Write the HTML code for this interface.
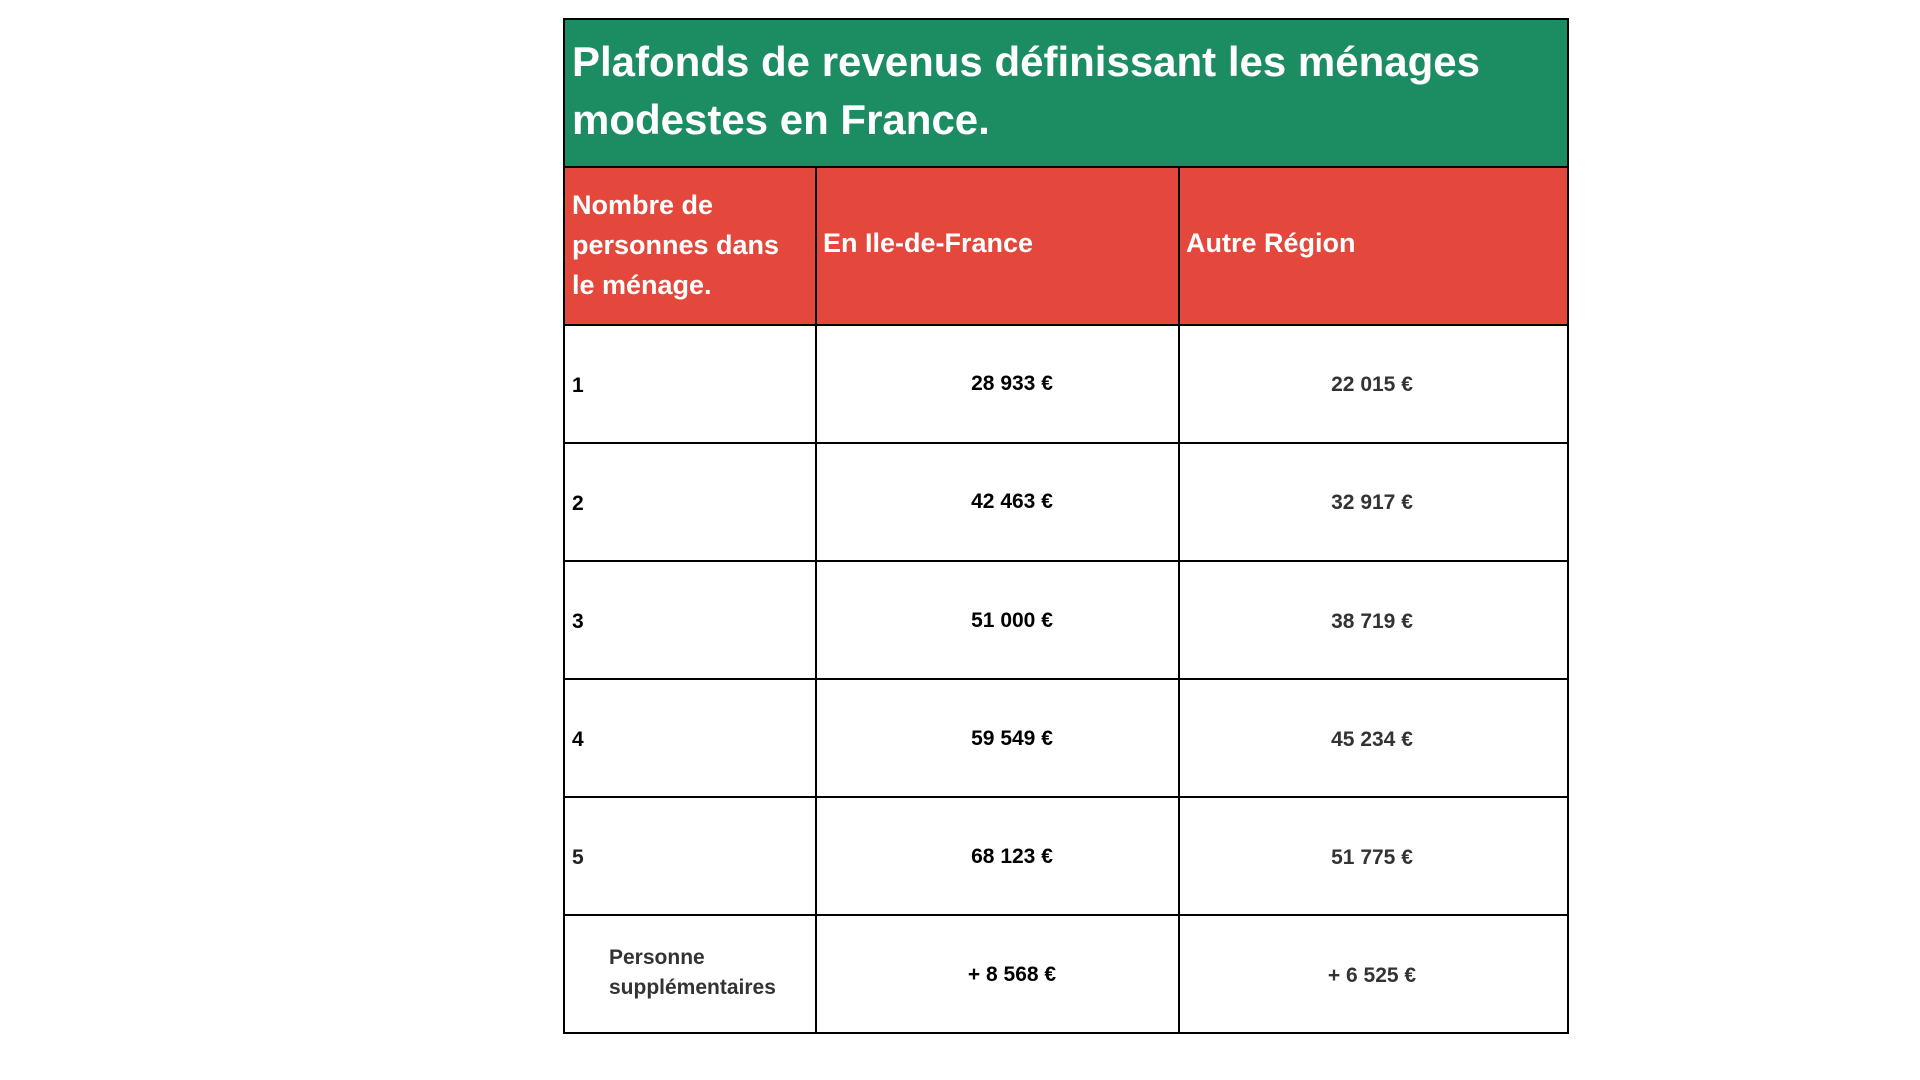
<!DOCTYPE html>
<html><head><meta charset="utf-8"><style>
body{margin:0;width:1920px;height:1080px;background:#fff;position:relative;overflow:hidden;font-family:"Liberation Sans",sans-serif;}
.a{position:absolute;box-sizing:border-box}
.t{position:absolute;white-space:nowrap;font-weight:bold}
.h{background:#000}
</style></head><body>
<div class="a" style="left:564px;top:19px;width:1004px;height:149px;background:#1c8c62"></div>
<div class="a" style="left:564px;top:167px;width:1004px;height:158px;background:#e4473b"></div>
<div class="t" style="left:572px;top:33px;font-size:42px;line-height:58px;color:#fff;">Plafonds de revenus définissant les ménages<br>modestes en France.</div>
<div class="t" style="left:572px;top:185px;font-size:27px;line-height:40px;color:#fff;">Nombre de<br>personnes dans<br>le ménage.</div>
<div class="t" style="left:823px;top:228px;font-size:27px;color:#fff;">En Ile-de-France</div>
<div class="t" style="left:1186px;top:228px;font-size:27px;color:#fff;">Autre Région</div>
<div class="a h" style="left:563px;top:18px;width:2px;height:1016px"></div>
<div class="a h" style="left:1567px;top:18px;width:2px;height:1016px"></div>
<div class="a h" style="left:563px;top:18px;width:1006px;height:2px"></div>
<div class="a h" style="left:563px;top:166px;width:1006px;height:2px"></div>
<div class="a h" style="left:815px;top:167px;width:2px;height:867px"></div>
<div class="a h" style="left:1178px;top:167px;width:2px;height:867px"></div>
<div class="a h" style="left:563px;top:324px;width:1006px;height:2px"></div>
<div class="a h" style="left:563px;top:442px;width:1006px;height:2px"></div>
<div class="a h" style="left:563px;top:560px;width:1006px;height:2px"></div>
<div class="a h" style="left:563px;top:678px;width:1006px;height:2px"></div>
<div class="a h" style="left:563px;top:796px;width:1006px;height:2px"></div>
<div class="a h" style="left:563px;top:914px;width:1006px;height:2px"></div>
<div class="a h" style="left:563px;top:1032px;width:1006px;height:2px"></div>
<div class="t" style="left:572px;top:374px;font-size:21px">1</div>
<div class="t" style="left:572px;top:492px;font-size:21px">2</div>
<div class="t" style="left:572px;top:610px;font-size:21px">3</div>
<div class="t" style="left:572px;top:728px;font-size:21px">4</div>
<div class="t" style="left:572px;top:846px;font-size:21px;color:#222">5</div>
<div class="t" style="left:609px;top:943px;font-size:21px;line-height:30px;color:#333">Personne<br>supplémentaires</div>
<div class="t" style="left:867px;width:290px;text-align:center;top:372px;font-size:21px">28 933 €</div>
<div class="t" style="left:867px;width:290px;text-align:center;top:490px;font-size:21px">42 463 €</div>
<div class="t" style="left:867px;width:290px;text-align:center;top:609px;font-size:21px">51 000 €</div>
<div class="t" style="left:867px;width:290px;text-align:center;top:727px;font-size:21px">59 549 €</div>
<div class="t" style="left:867px;width:290px;text-align:center;top:845px;font-size:21px">68 123 €</div>
<div class="t" style="left:867px;width:290px;text-align:center;top:963px;font-size:21px">+ 8 568 €</div>
<div class="t" style="left:1227px;width:290px;text-align:center;top:373px;font-size:21px;color:#333">22 015 €</div>
<div class="t" style="left:1227px;width:290px;text-align:center;top:491px;font-size:21px;color:#333">32 917 €</div>
<div class="t" style="left:1227px;width:290px;text-align:center;top:610px;font-size:21px;color:#333">38 719 €</div>
<div class="t" style="left:1227px;width:290px;text-align:center;top:728px;font-size:21px;color:#333">45 234 €</div>
<div class="t" style="left:1227px;width:290px;text-align:center;top:846px;font-size:21px;color:#333">51 775 €</div>
<div class="t" style="left:1227px;width:290px;text-align:center;top:964px;font-size:21px;color:#333">+ 6 525 €</div>
</body></html>
